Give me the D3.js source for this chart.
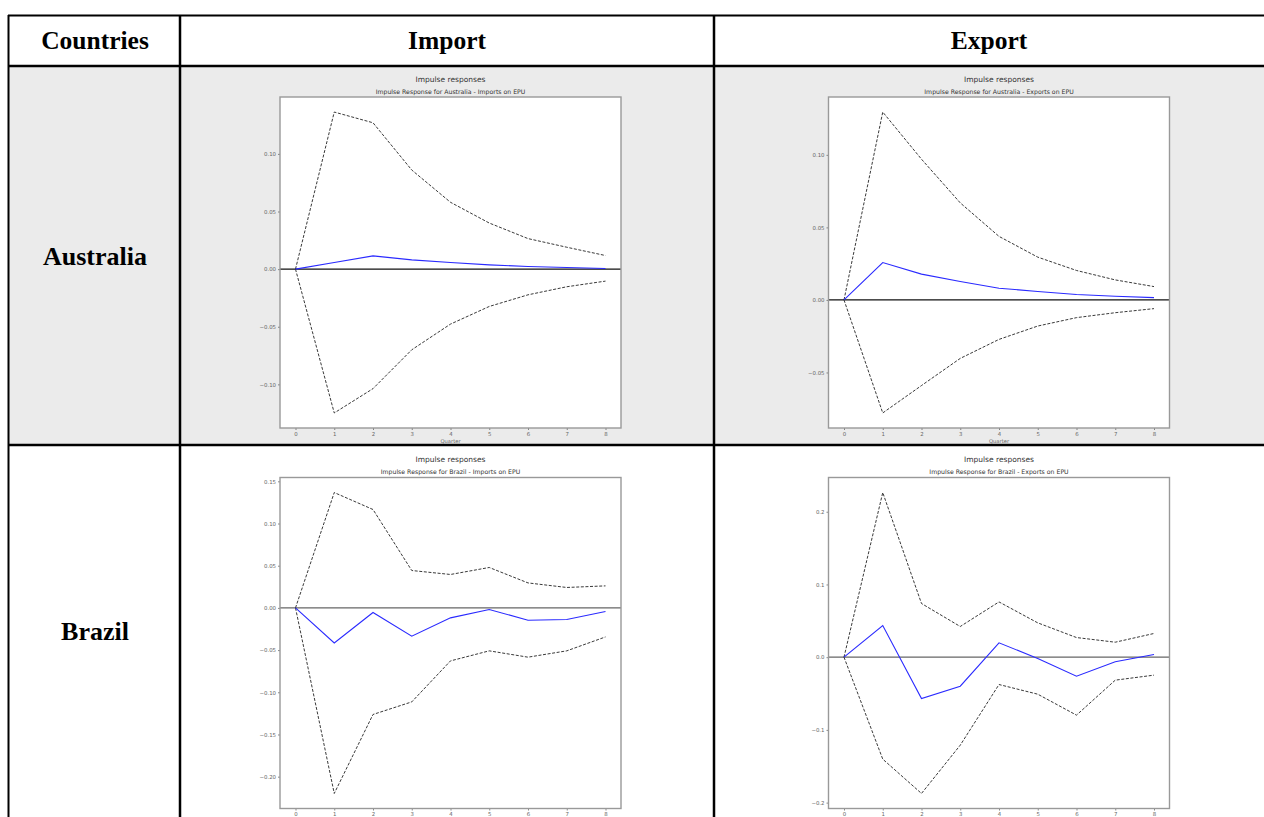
<!DOCTYPE html>
<html>
<head>
<meta charset="utf-8">
<script src="https://cdn.jsdelivr.net/npm/d3@7"></script>
<style>
  body { margin: 0; background: #fff; }
  svg { display: block; }
</style>
</head>
<body>
<div id="chart"></div>
<script>
// quarters after the shock (x axis)
const quarters = [0, 1, 2, 3, 4, 5, 6, 7, 8];

// Australia - imports on EPU
const ausImportIrf = [0, 0.0057, 0.0115, 0.0080, 0.0058, 0.0037, 0.0023, 0.0014, 0.0006];
const ausImportUpper = [0, 0.1363, 0.1270, 0.0860, 0.0580, 0.0400, 0.0265, 0.0190, 0.0118];
const ausImportLower = [0, -0.1248, -0.1037, -0.0700, -0.0477, -0.0324, -0.0223, -0.0153, -0.0104];
const ausImportTicks = [-0.10, -0.05, 0, 0.05, 0.10];

// Australia - exports on EPU
const ausExportIrf = [0, 0.0258, 0.0178, 0.0127, 0.0081, 0.0058, 0.0037, 0.0025, 0.0016];
const ausExportUpper = [0, 0.1295, 0.0970, 0.0669, 0.0438, 0.0295, 0.0203, 0.0138, 0.0092];
const ausExportLower = [0, -0.0779, -0.0590, -0.0403, -0.0272, -0.0180, -0.0122, -0.0088, -0.0060];
const ausExportTicks = [-0.05, 0, 0.05, 0.10];

// Brazil - imports on EPU
const braImportIrf = [0, -0.0415, -0.0055, -0.0335, -0.0118, -0.0019, -0.0146, -0.0138, -0.0043];
const braImportUpper = [0, 0.1367, 0.1166, 0.0443, 0.0396, 0.0479, 0.0296, 0.0242, 0.0261];
const braImportLower = [0, -0.2199, -0.1263, -0.1114, -0.0628, -0.0509, -0.0584, -0.0509, -0.0344];
const braImportTicks = [-0.20, -0.15, -0.10, -0.05, 0, 0.05, 0.10, 0.15];

// Brazil - exports on EPU
const braExportIrf = [0, 0.0435, -0.0568, -0.0399, 0.0197, -0.0018, -0.0261, -0.0064, 0.0037];
const braExportUpper = [0, 0.2264, 0.0738, 0.0422, 0.0760, 0.0472, 0.0270, 0.0206, 0.0326];
const braExportLower = [0, -0.1402, -0.1874, -0.1210, -0.0376, -0.0509, -0.0797, -0.0316, -0.0247];
const braExportTicks = [-0.2, -0.1, 0, 0.1, 0.2];

const headers = ["Countries", "Import", "Export"];
const countries = ["Australia", "Brazil"];

const W = 1264, H = 817;

const svg = d3.select("#chart")
  .append("svg")
  .attr("width", W)
  .attr("height", H);

// ---- table ----
svg.append("rect")
  .attr("x", 9).attr("y", 66)
  .attr("width", W - 9).attr("height", 379)
  .attr("fill", "#ebebeb");

const headerX = [95, 447, 989];
svg.selectAll("text.header")
  .data(headers)
  .enter()
  .append("text")
  .attr("class", "header")
  .attr("x", (d, i) => headerX[i])
  .attr("y", 49)
  .attr("text-anchor", "middle")
  .style("font-family", "'Liberation Serif', 'Times New Roman', serif")
  .style("font-weight", "bold")
  .style("font-size", "25.5px")
  .text(d => d);

const rowY = [265, 640];
svg.selectAll("text.country")
  .data(countries)
  .enter()
  .append("text")
  .attr("class", "country")
  .attr("x", 95)
  .attr("y", (d, i) => rowY[i])
  .attr("text-anchor", "middle")
  .style("font-family", "'Liberation Serif', 'Times New Roman', serif")
  .style("font-weight", "bold")
  .style("font-size", "26px")
  .text(d => d);

const rules = [
  [8, 15.5, W, 15.5, 2],
  [8.5, 15, 8.5, H, 2],
  [180, 15, 180, H, 2.5],
  [714, 15, 714, H, 2.5],
  [8, 66, W, 66, 2.5],
  [8, 445, W, 445, 2.5]
];
svg.selectAll("line.rule")
  .data(rules)
  .enter()
  .append("line")
  .attr("x1", d => d[0]).attr("y1", d => d[1])
  .attr("x2", d => d[2]).attr("y2", d => d[3])
  .attr("stroke", "#000")
  .attr("stroke-width", d => d[4]);

// ---- impulse response panels ----
const panels = [
  { sub: "Impulse Response for Australia - Imports on EPU", irf: ausImportIrf, upper: ausImportUpper, lower: ausImportLower,
    ticks: ausImportTicks, fmt: ".2f", left: 280, top: 97, zero: "#111", quarter: true },
  { sub: "Impulse Response for Australia - Exports on EPU", irf: ausExportIrf, upper: ausExportUpper, lower: ausExportLower,
    ticks: ausExportTicks, fmt: ".2f", left: 828.5, top: 97, zero: "#111", quarter: true },
  { sub: "Impulse Response for Brazil - Imports on EPU", irf: braImportIrf, upper: braImportUpper, lower: braImportLower,
    ticks: braImportTicks, fmt: ".2f", left: 280, top: 477.5, zero: "#666", quarter: false },
  { sub: "Impulse Response for Brazil - Exports on EPU", irf: braExportIrf, upper: braExportUpper, lower: braExportLower,
    ticks: braExportTicks, fmt: ".1f", left: 828.5, top: 477.5, zero: "#666", quarter: false }
];

const pw = 341, ph = 331;

panels.forEach(p => {
  const g = svg.append("g");

  const x = d3.scaleLinear()
    .domain([-0.4, 8.4])
    .range([p.left, p.left + pw]);

  // matplotlib style 5% margin around the bands
  const lo = d3.min(p.lower), hi = d3.max(p.upper);
  const pad = (hi - lo) * 0.05;
  const y = d3.scaleLinear()
    .domain([lo - pad, hi + pad])
    .range([p.top + ph, p.top]);

  g.append("rect")
    .attr("x", p.left).attr("y", p.top)
    .attr("width", pw).attr("height", ph)
    .attr("fill", "#fff");

  // titles
  const cx = p.left + pw / 2;
  g.append("text")
    .attr("x", cx).attr("y", p.top - 15.5)
    .attr("text-anchor", "middle")
    .style("font-family", "'DejaVu Sans', sans-serif")
    .style("font-size", "7.5px")
    .attr("fill", "#333")
    .text("Impulse responses");
  g.append("text")
    .attr("x", cx).attr("y", p.top - 3.5)
    .attr("text-anchor", "middle")
    .style("font-family", "'DejaVu Sans', sans-serif")
    .style("font-size", "6.2px")
    .attr("fill", "#333")
    .text(p.sub);

  // zero line
  g.append("line")
    .attr("x1", p.left).attr("x2", p.left + pw)
    .attr("y1", y(0)).attr("y2", y(0))
    .attr("stroke", p.zero)
    .attr("stroke-width", 1.3);

  const line = d3.line()
    .x((d, i) => x(quarters[i]))
    .y(d => y(d));

  [p.upper, p.lower].forEach(band => {
    g.append("path")
      .datum(band)
      .attr("d", line)
      .attr("fill", "none")
      .attr("stroke", "#222")
      .attr("stroke-width", 0.9)
      .attr("stroke-dasharray", "3,1.6");
  });

  g.append("path")
    .datum(p.irf)
    .attr("d", line)
    .attr("fill", "none")
    .attr("stroke", "#2a2aff")
    .attr("stroke-width", 1.1);

  // axes
  const xAxis = g.append("g")
    .attr("transform", "translate(0," + (p.top + ph) + ")")
    .call(d3.axisBottom(x).tickValues(quarters).tickSize(2).tickPadding(2));
  const yAxis = g.append("g")
    .attr("transform", "translate(" + p.left + ",0)")
    .call(d3.axisLeft(y).tickValues(p.ticks).tickSize(2).tickPadding(2).tickFormat(d3.format(p.fmt)));

  [xAxis, yAxis].forEach(a => {
    a.select(".domain").remove();
    a.selectAll("line").attr("stroke", "#555").attr("stroke-width", 0.7);
    a.selectAll("text")
      .attr("fill", "#666")
      .style("font-family", "'DejaVu Sans', sans-serif")
      .style("font-size", "5.4px");
  });

  if (p.quarter) {
    g.append("text")
      .attr("x", cx).attr("y", p.top + ph + 15)
      .attr("text-anchor", "middle")
      .style("font-family", "'DejaVu Sans', sans-serif")
      .style("font-size", "5.2px")
      .attr("fill", "#666")
      .text("Quarter");
  }

  // frame
  g.append("rect")
    .attr("x", p.left).attr("y", p.top)
    .attr("width", pw).attr("height", ph)
    .attr("fill", "none")
    .attr("stroke", "#999")
    .attr("stroke-width", 1.4);
});
</script>
</body>
</html>
